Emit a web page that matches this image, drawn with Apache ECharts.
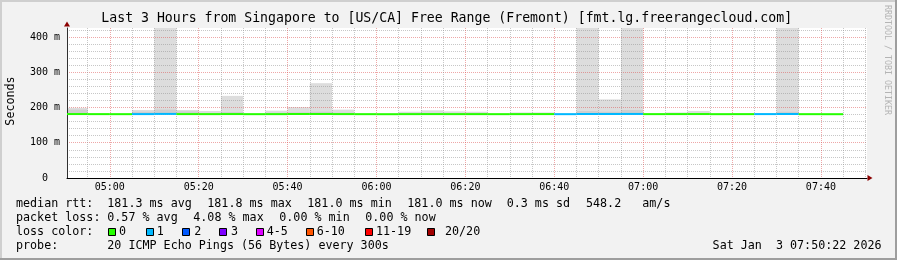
<!DOCTYPE html>
<html><head><meta charset="utf-8">
<script src="https://cdn.jsdelivr.net/npm/echarts@6/dist/echarts.min.js"></script>
<style>html,body{margin:0;padding:0;background:#f2f2f2}#c{width:897px;height:260px}</style>
</head><body><div id="c"></div>
<script>
// ---------- data ----------
const titleText = 'Last 3 Hours from Singapore to [US/CA] Free Range (Fremont) [fmt.lg.freerangecloud.com]';
const yAxisTitle = 'Seconds';
const sideText = 'RRDTOOL / TOBI OETIKER';

// 5-minute bins (end time of each bin)
const binEnd = ['04:55','05:00','05:05','05:10','05:15','05:20','05:25','05:30','05:35','05:40',
                '05:45','05:50','05:55','06:00','06:05','06:10','06:15','06:20','06:25','06:30',
                '06:35','06:40','06:45','06:50','06:55','07:00','07:05','07:10','07:15','07:20',
                '07:25','07:30','07:35','07:40','07:45'];
const medianMs = [181.4,181.2,181.1,181.3,181.8,181.3,181.2,181.4,181.1,181.2,
                  181.5,181.6,181.3,181.1,181.0,181.2,181.3,181.2,181.2,181.1,
                  181.2,181.3,181.1,181.6,181.5,181.7,181.2,181.3,181.4,181.1,
                  181.2,181.3,181.6,181.1,181.0];
const smokeMinMs = [180.6,180.7,180.6,180.7,180.8,180.7,180.6,180.7,180.6,180.6,
                    180.7,180.8,180.7,180.6,180.6,180.7,180.7,180.6,180.6,180.6,
                    180.6,180.7,180.6,180.8,180.8,180.9,180.6,180.7,180.7,180.6,
                    180.6,180.7,180.8,180.6,180.6];
const smokeMidMs = [194,181.8,181.8,188,194,189,184,187,181.8,185,
                    186,188,185,181.8,181.8,183,184,183,183,181.8,
                    183,183,181.8,190,188,193,181.8,183,184,181.8,
                    181.8,181.8,188,181.8,181.8];
const smokeMaxMs = [199,182,182,193,560,193,190,233,182,191,
                    201,269,194,182,182,188,192,189,188,182,
                    186,186,182,610,223,520,182,186,190,182,
                    182,182,480,182,182];
const lossCount  = [0,0,0,1,1,0,0,0,0,0,
                    0,0,0,0,0,0,0,0,0,0,
                    0,0,1,1,1,1,0,0,0,0,
                    0,1,1,0,0];

const xTickLabels = ['05:00','05:20','05:40','06:00','06:20','06:40','07:00','07:20','07:40'];
const yTickValues = [0,100,200,300,400];
const yTickLabels = ['0','100 m','200 m','300 m','400 m'];

const rttLabel = 'median rtt:';
const rttStats = ['181.3 ms avg','181.8 ms max','181.0 ms min','181.0 ms now','0.3 ms sd','548.2','am/s'];
const lossLabel = 'packet loss:';
const lossStats = ['0.57 % avg','4.08 % max','0.00 % min','0.00 % now'];
const lossColorLabel = 'loss color:';
const lossLegendLabels = ['0','1','2','3','4-5','6-10','11-19','20/20'];
const lossLegendColors = ['#26ff00','#00b8ff','#0059ff','#7e00ff','#dd00ff','#ff5500','#ff0000','#a10000'];
const probeLabel = 'probe:';
const probeText = '20 ICMP Echo Pings (56 Bytes) every 300s';
const dateText = 'Sat Jan  3 07:50:22 2026';

// ---------- layout / helpers ----------
const MONO = '"DejaVu Sans Mono", "Liberation Mono", monospace';
function toMin(s){ const p = s.split(':').map(Number); return p[0]*60 + p[1]; }
const BIN = 5;
const X_MIN = toMin('04:50') + 22/60;
const X_MAX = X_MIN + 180;
const Y_MAX = 425.5;

function lossColorIdx(n){
  if (n <= 3) return n;
  if (n <= 5) return 4;
  if (n <= 10) return 5;
  if (n <= 19) return 6;
  return 7;
}

const majorX = xTickLabels.map(toMin);
const minorX = [];
for (let t = toMin('04:55'); t <= toMin('07:50'); t += 5) if (majorX.indexOf(t) < 0) minorX.push(t);
const majorY = [100,200,300,400];
const minorY = [];
for (let v = 20; v <= 420; v += 20) if (v % 100 !== 0) minorY.push(v);

const smokeData = binEnd.map((e,i)=>[toMin(e)-BIN, toMin(e), smokeMinMs[i], smokeMidMs[i], smokeMaxMs[i]]);
const medianData = binEnd.map((e,i)=>[toMin(e)-BIN, toMin(e), medianMs[i], lossCount[i]]);

function clampRect(x0,x1,y0,y1,cs){
  const l = Math.max(Math.min(x0,x1), cs.x), r = Math.min(Math.max(x0,x1), cs.x+cs.width);
  const t = Math.max(Math.min(y0,y1), cs.y), b = Math.min(Math.max(y0,y1), cs.y+cs.height);
  return {x:l, y:t, width:Math.max(0,r-l), height:Math.max(0,b-t)};
}

const GRID_MINOR = 'rgba(143,143,143,0.5)';
const GRID_MAJOR = 'rgba(222,80,80,0.5)';

// ---------- graphic (title, legend text) ----------
const graphics = [];
function txt(x, y, text, opts){
  graphics.push(Object.assign({type:'text', x:x, y:y, silent:true,
    style:Object.assign({text:text, fill:'#000', font:'11.7px ' + MONO, textAlign:'left', textVerticalAlign:'middle'}, opts||{})}));
}
// borders
graphics.push({type:'rect', shape:{x:0,y:0,width:897,height:2}, style:{fill:'#cfcfcf'}, silent:true});
graphics.push({type:'rect', shape:{x:0,y:0,width:2,height:260}, style:{fill:'#cfcfcf'}, silent:true});
graphics.push({type:'rect', shape:{x:0,y:258,width:897,height:2}, style:{fill:'#9e9e9e'}, silent:true});
graphics.push({type:'rect', shape:{x:895,y:0,width:2,height:260}, style:{fill:'#9e9e9e'}, silent:true});

txt(446.7, 19, titleText, {font:'13.2px ' + MONO, textAlign:'center'});
graphics.push({type:'text', x:11, y:101, rotation:Math.PI/2, silent:true,
  style:{text:yAxisTitle, fill:'#000', font:'11.7px ' + MONO, textAlign:'center', textVerticalAlign:'middle'}});
graphics.push({type:'text', x:887.5, y:60, rotation:-Math.PI/2, silent:true,
  style:{text:sideText, fill:'#b4b4b4', font:'8.3px ' + MONO, textAlign:'center', textVerticalAlign:'middle'}});

const row = [204.3, 218.3, 232.3, 246.3];
txt(16, row[0], rttLabel);
[107.3, 207.3, 307.3, 407.3, 506.7, 586, 642.3].forEach((x,i)=>txt(x, row[0], rttStats[i]));
txt(16, row[1], lossLabel);
[107.3, 193.3, 279.3, 365.3].forEach((x,i)=>txt(x, row[1], lossStats[i]));
txt(16, row[2], lossColorLabel);
const boxX = [108.3,145.7,182.3,219.3,256,306,365.3,427.3];
const boxLabelX = [119,156.7,194.3,231,266.7,316.7,376,445];
boxX.forEach((x,i)=>{
  graphics.push({type:'rect', silent:true, shape:{x:Math.round(x)+0.5, y:228.5, width:7, height:7},
    style:{fill:lossLegendColors[i], stroke:'#000', lineWidth:1}});
  txt(boxLabelX[i], row[2], lossLegendLabels[i]);
});
txt(16, row[3], probeLabel);
txt(107.3, row[3], probeText);
txt(881.5, row[3], dateText, {textAlign:'right'});

// ---------- chart ----------
const chart = echarts.init(document.getElementById('c'), null, {renderer:'canvas'});
const option = {
  animation:false,
  backgroundColor:'#f2f2f2',
  grid:{left:67, right:30, top:28, bottom:82, show:true, backgroundColor:'#ffffff', borderWidth:0, containLabel:false, outerBoundsMode:'none'},
  xAxis:[
    {type:'value', min:X_MIN, max:X_MAX, z:2,
     axisLine:{show:true, onZero:false, lineStyle:{color:'#000', width:1}},
     axisTick:{show:false, customValues:minorX},
     axisLabel:{show:false},
     splitLine:{show:true, lineStyle:{color:GRID_MINOR, width:1, type:[1,1]}}},
    {type:'value', min:X_MIN, max:X_MAX, position:'bottom', z:2,
     axisLine:{show:true, onZero:false, symbol:['none','triangle'], symbolSize:[6,5], symbolOffset:[0,3],
               lineStyle:{color:'#8b0000', width:0}},
     axisTick:{show:false, customValues:majorX},
     axisLabel:{show:true, customValues:majorX, margin:4, color:'#000', fontFamily:MONO, fontSize:10,
       formatter:(v)=>{ const i = majorX.indexOf(Math.round(v)); return i>=0 ? xTickLabels[i] : ''; }},
     splitLine:{show:true, lineStyle:{color:GRID_MAJOR, width:1, type:[1,1]}}}
  ],
  yAxis:[
    {type:'value', min:0, max:Y_MAX, z:2,
     axisLine:{show:true, onZero:false, lineStyle:{color:'#303030', width:1}},
     axisTick:{show:false, customValues:minorY},
     axisLabel:{show:false},
     splitLine:{show:true, lineStyle:{color:GRID_MINOR, width:1, type:[1,1]}}},
    {type:'value', min:0, max:Y_MAX, position:'left', z:2,
     axisLine:{show:true, onZero:false, symbol:['none','triangle'], symbolSize:[6,5], symbolOffset:[0,4],
               lineStyle:{color:'#8b0000', width:0}},
     axisTick:{show:false, customValues:majorY},
     axisLabel:{show:true, customValues:yTickValues, margin:7, color:'#000', fontFamily:MONO, fontSize:10,
       formatter:(v)=>{ const i = yTickValues.indexOf(Math.round(v)); if (i<0) return ''; const s = yTickLabels[i]; return s.length < 3 ? s + '  ' : s; }},
     splitLine:{show:true, lineStyle:{color:GRID_MAJOR, width:1, type:[1,1]}}}
  ],
  series:[
    {type:'custom', name:'smoke', xAxisIndex:0, yAxisIndex:0, z:1, silent:true,
     encode:{x:[0,1], y:[2,3,4]},
     data:smokeData,
     renderItem:(params, api)=>{
       const cs = params.coordSys;
       const t0 = api.value(0), t1 = api.value(1);
       const lo = api.value(2), mid = api.value(3), hi = api.value(4);
       const a = api.coord([t0, lo]), b = api.coord([t1, hi]), m = api.coord([t1, mid]);
       return {type:'group', children:[
         {type:'rect', shape:clampRect(a[0], b[0], a[1], b[1], cs), style:{fill:'#dddddd'}},
         {type:'rect', shape:clampRect(a[0], m[0], a[1], m[1], cs), style:{fill:'#cecece'}}
       ]};
     }},
    {type:'custom', name:'median rtt', xAxisIndex:0, yAxisIndex:0, z:3, silent:true,
     encode:{x:[0,1], y:2},
     data:medianData,
     renderItem:(params, api)=>{
       const t0 = Math.max(api.value(0), X_MIN), t1 = Math.min(api.value(1), X_MAX);
       const p0 = api.coord([t0, api.value(2)]), p1 = api.coord([t1, api.value(2)]);
       return {type:'line', shape:{x1:p0[0], y1:p0[1], x2:p1[0], y2:p1[1]},
               style:{stroke:lossLegendColors[lossColorIdx(api.value(3))], lineWidth:2}};
     }}
  ],
  graphic:graphics
};
chart.setOption(option);
</script>
</body></html>
